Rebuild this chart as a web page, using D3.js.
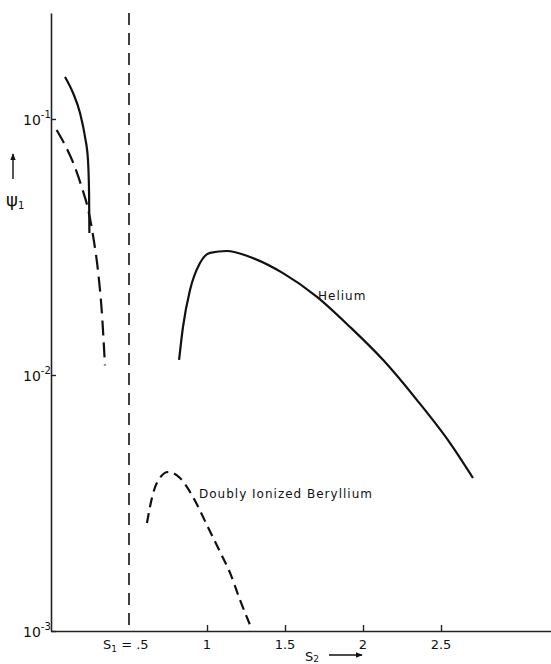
<!DOCTYPE html>
<html>
<head>
<meta charset="utf-8">
<script src="https://cdn.jsdelivr.net/npm/d3@7"></script>
<style>
  body { margin: 0; background: #fff; }
  svg { display: block; }
  text { font-family: "DejaVu Sans", sans-serif; fill: #111; }
</style>
</head>
<body>
<div id="chart"></div>
<script>
// values (S2 along x, psi1 on log scale)
var innerSolidS2 = [0.090, 0.141, 0.186, 0.218, 0.237, 0.244, 0.246];
var innerSolidPsi = [0.146, 0.1265, 0.1055, 0.0851, 0.0692, 0.0514, 0.0359];

var innerDashS2 = [0.036, 0.090, 0.143, 0.197, 0.239, 0.271, 0.303, 0.325, 0.346];
var innerDashPsi = [0.0906, 0.0791, 0.0673, 0.0542, 0.0441, 0.0346, 0.0250, 0.0179, 0.0109];

var heliumS2 = [0.821, 0.846, 0.891, 0.955, 1.019, 1.128, 1.276, 1.487, 1.705, 1.917, 2.128, 2.346, 2.558, 2.705];
var heliumPsi = [0.01146, 0.0154, 0.02148, 0.0274, 0.0300, 0.0305, 0.0289, 0.0250, 0.0202, 0.0154, 0.01146, 0.00798, 0.00542, 0.00396];

var berylS2 = [0.615, 0.647, 0.679, 0.750, 0.827, 0.910, 1.000, 1.083, 1.147, 1.212, 1.276];
var berylPsi = [0.00264, 0.00331, 0.00379, 0.00418, 0.00396, 0.00334, 0.00259, 0.00204, 0.00169, 0.00132, 0.001055];

var xTicks = [1, 1.5, 2, 2.5];
var xTickLabels = ["1", "1.5", "2", "2.5"];
var yTicks = [1e-1, 1e-2, 1e-3];
var yTickExps = ["-1", "-2", "-3"];
var s1Value = 0.5;

var width = 551;
var height = 664;

var svg = d3.select('#chart').append('svg')
    .attr('width', width)
    .attr('height', height);

//scales
var x = d3.scaleLinear().domain([0, 3.205]).range([51, 551]);
var y = d3.scaleLog().domain([1e-3, Math.pow(10, -0.586)]).range([631, 13]);

//axes
svg.append('g')
    .attr('transform', 'translate(0,' + y(1e-3) + ')')
    .call(d3.axisBottom(x).tickValues(xTicks).tickSize(-6).tickSizeOuter(0).tickFormat(''))
    .call(function(g) {
        g.select('.domain').attr('stroke', '#222').attr('stroke-width', 1.6);
        g.selectAll('.tick line').attr('stroke', '#222').attr('stroke-width', 1.4);
    });

svg.append('g')
    .attr('transform', 'translate(' + x(0) + ',0)')
    .call(d3.axisLeft(y).tickValues(yTicks).tickSize(-5).tickSizeOuter(0).tickFormat(''))
    .call(function(g) {
        g.select('.domain').attr('stroke', '#222').attr('stroke-width', 1.6);
        g.selectAll('.tick line').attr('stroke', '#222').attr('stroke-width', 1.4);
    });

//x tick labels
svg.append('g').selectAll('text').data(xTicks)
    .enter().append('text')
    .attr('x', function(d) { return x(d); })
    .attr('y', 649)
    .attr('text-anchor', 'middle')
    .style('font-size', '13px')
    .text(function(d, i) { return xTickLabels[i]; });

//s1 = .5 label
var s1Label = svg.append('text')
    .attr('x', x(s1Value) - 26)
    .attr('y', 649)
    .style('font-size', '13px');
s1Label.append('tspan').text('S');
s1Label.append('tspan').attr('dy', 3).style('font-size', '9px').text('1');
s1Label.append('tspan').attr('dy', -3).text(' = .5');

//y tick labels (10 with exponent)
yTicks.forEach(function(d, i) {
    var t = svg.append('text')
        .attr('x', 23)
        .attr('y', y(d) + 6)
        .style('font-size', '14px');
    t.append('tspan').text('10');
    t.append('tspan').attr('dy', -7).style('font-size', '10px').text(yTickExps[i]);
});

//y axis label: arrow and psi1
svg.append('defs').append('marker')
    .attr('id', 'arrow')
    .attr('viewBox', '0 0 10 10')
    .attr('refX', 9).attr('refY', 5)
    .attr('markerWidth', 5).attr('markerHeight', 5)
    .attr('orient', 'auto')
    .append('path').attr('d', 'M0,1L10,5L0,9z').attr('fill', '#111');

svg.append('line')
    .attr('x1', 13).attr('x2', 13).attr('y1', 179).attr('y2', 154)
    .attr('stroke', '#111').attr('stroke-width', 1.4)
    .attr('marker-end', 'url(#arrow)');

var psi = svg.append('text').attr('x', 6).attr('y', 206).style('font-size', '18px');
psi.append('tspan').text('ψ');
psi.append('tspan').attr('dy', 3).style('font-size', '10px').text('1');

//x axis label: S2 and arrow
var s2 = svg.append('text').attr('x', 305).attr('y', 661).style('font-size', '13px');
s2.append('tspan').text('S');
s2.append('tspan').attr('dy', 1).style('font-size', '9px').text('2');

svg.append('line')
    .attr('x1', 329).attr('x2', 362).attr('y1', 655).attr('y2', 655)
    .attr('stroke', '#111').attr('stroke-width', 1.4)
    .attr('marker-end', 'url(#arrow)');

//dashed vertical line at s1 = .5
svg.append('line')
    .attr('x1', x(s1Value)).attr('x2', x(s1Value))
    .attr('y1', 13).attr('y2', y(1e-3))
    .attr('stroke', '#111').attr('stroke-width', 1.6)
    .attr('stroke-dasharray', '12,8');

//curves
var line = d3.line()
    .x(function(d) { return x(d[0]); })
    .y(function(d) { return y(d[1]); })
    .curve(d3.curveMonotoneX);

function drawCurve(xs, ys, dash) {
    var pts = xs.map(function(v, i) { return [v, ys[i]]; });
    svg.append('path')
        .datum(pts)
        .attr('d', line)
        .attr('fill', 'none')
        .attr('stroke', '#111')
        .attr('stroke-width', 2.2)
        .attr('stroke-dasharray', dash || null);
}

drawCurve(innerSolidS2, innerSolidPsi);
drawCurve(innerDashS2, innerDashPsi, '15,7');
drawCurve(heliumS2, heliumPsi);
drawCurve(berylS2, berylPsi, '10,6');

//curve labels
svg.append('text')
    .attr('x', 318).attr('y', 300)
    .style('font-size', '12px')
    .style('letter-spacing', '1px')
    .text('Helium');

svg.append('text')
    .attr('x', 199).attr('y', 498)
    .style('font-size', '12px')
    .style('letter-spacing', '1px')
    .text('Doubly Ionized Beryllium');
</script>
</body>
</html>
